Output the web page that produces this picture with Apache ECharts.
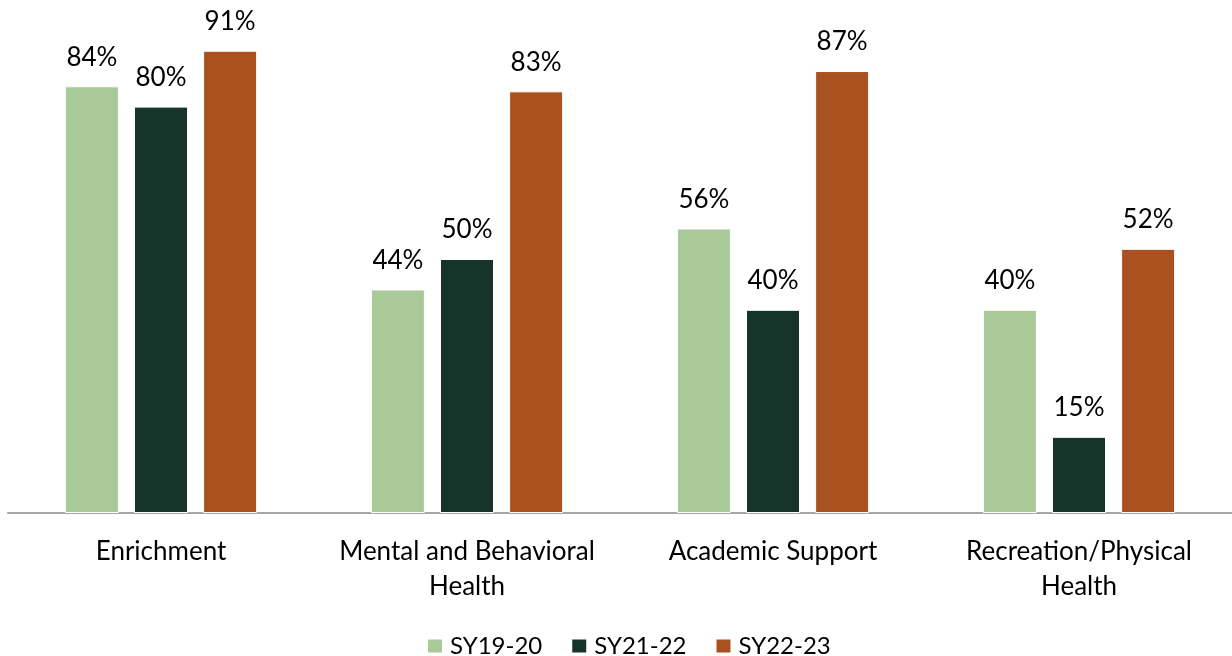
<!DOCTYPE html>
<html><head><meta charset="utf-8">
<script src="https://cdn.jsdelivr.net/npm/echarts@6/dist/echarts.min.js"></script>
<style>html,body{margin:0;padding:0;background:#fff}#c{width:1232px;height:656px}</style>
</head><body><div id="c"></div>
<script>
const categories = ["Enrichment", "Mental and Behavioral\nHealth", "Academic Support", "Recreation/Physical\nHealth"];
const seriesNames = ["SY19-20", "SY21-22", "SY22-23"];
const sy1920 = [84, 44, 56, 40];
const sy2122 = [80, 50, 40, 15];
const sy2223 = [91, 83, 87, 52];
const colors = ["#A9C998", "#17342B", "#A9511F"];
const FONT = "Lato, 'Source Sans Pro', sans-serif";

const chart = echarts.init(document.getElementById('c'));
const mk = (name, data, color) => ({
  name, type: 'bar', data,
  barWidth: 54, barGap: '28%',
  itemStyle: { color, borderColor: '#fff', borderWidth: 1 },
  label: { show: true, position: 'top', distance: 16, formatter: '{c}%', color: '#000', fontSize: 26, fontFamily: FONT }
});
chart.setOption({
  animation: false,
  color: colors,
  grid: { left: 8, right: 0, top: 5, bottom: 143, containLabel: false },
  legend: {
    top: 634, left: 426, padding: 0, itemWidth: 16, itemHeight: 15, itemGap: 28,
    icon: 'rect',
    textStyle: { fontSize: 24, fontFamily: FONT, color: '#000', padding: [0, 0, 0, 2] },
    data: seriesNames
  },
  xAxis: {
    type: 'category', data: categories,
    axisLine: { lineStyle: { color: '#A6A6A6', width: 2 } },
    axisTick: { show: false },
    axisLabel: { fontSize: 26, fontFamily: FONT, color: '#000', margin: 21, lineHeight: 35, interval: 0 }
  },
  yAxis: { type: 'value', min: 0, max: 100, show: false, splitLine: { show: false } },
  series: [mk(seriesNames[0], sy1920, colors[0]), mk(seriesNames[1], sy2122, colors[1]), mk(seriesNames[2], sy2223, colors[2])]
});
</script></body></html>
